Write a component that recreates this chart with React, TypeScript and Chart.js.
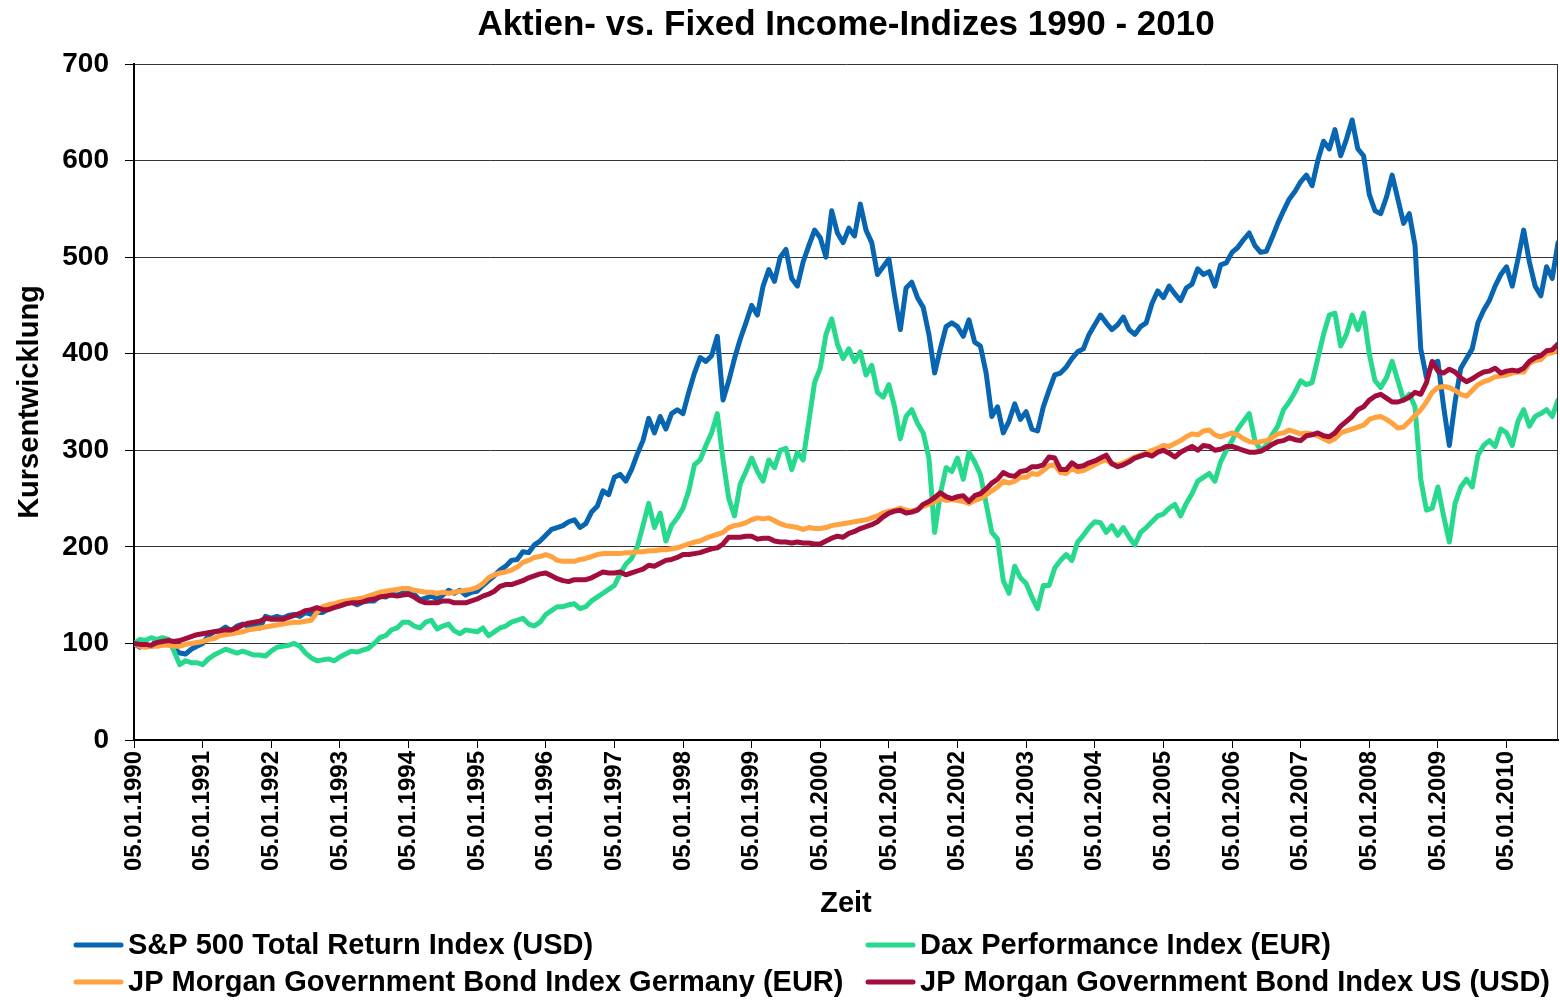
import React, { useEffect, useRef } from 'react';
import { Chart, registerables } from 'chart.js';

Chart.register(...registerables);

const chartTitle = 'Aktien- vs. Fixed Income-Indizes 1990 - 2010';
const yAxisTitle = 'Kursentwicklung';
const xAxisTitle = 'Zeit';

const yearTickLabels = [
  '05.01.1990', '05.01.1991', '05.01.1992', '05.01.1993', '05.01.1994', '05.01.1995', '05.01.1996',
  '05.01.1997', '05.01.1998', '05.01.1999', '05.01.2000', '05.01.2001', '05.01.2002', '05.01.2003',
  '05.01.2004', '05.01.2005', '05.01.2006', '05.01.2007', '05.01.2008', '05.01.2009', '05.01.2010',
];

const seriesNames = [
  'S&P 500 Total Return Index (USD)',
  'Dax Performance Index (EUR)',
  'JP Morgan Government Bond Index Germany (EUR)',
  'JP Morgan Government Bond Index US (USD)',
];
const seriesColors = ['#0865B1', '#27D98C', '#FFA23F', '#A20D3C'];

// monthly observations, January 1990 .. October 2010
const spx = [
  100, 96, 99, 97, 104, 105, 104, 95, 90, 89, 94, 97,
  100, 108, 112, 113, 117, 113, 118, 120, 118, 120, 116, 128,
  126, 128, 126, 129, 130, 128, 132, 130, 132, 132, 136, 138,
  139, 141, 143, 140, 143, 144, 144, 149, 148, 151, 150, 152,
  155, 151, 145, 147, 149, 146, 150, 155, 152, 155, 150, 153,
  154, 160, 165, 170, 176, 180, 186, 187, 195, 194, 202, 206,
  212, 218, 220, 222, 226, 228, 220, 224, 236, 242, 258, 254,
  272, 275, 268, 280, 296, 310, 333, 318, 335, 322, 338, 342,
  338, 360, 380, 396, 392, 398, 418, 352, 372, 395, 415, 432,
  450, 440, 470, 487, 475, 500, 508, 478, 470, 495, 512, 528,
  520, 500, 548, 525, 515, 530, 522, 555, 528, 515, 482, 490,
  498, 460, 425, 468, 474, 458, 448, 420, 380, 405, 428, 432,
  428, 418, 435, 412, 408, 380, 335, 345, 318, 330, 348, 332,
  340, 322, 320, 345, 362, 378, 380, 386, 395, 402, 405, 420,
  430, 440, 432, 425, 430, 438, 425, 420, 428, 432, 452, 465,
  458, 470, 462, 455, 468, 472, 488, 482, 485, 470, 492, 494,
  505, 510, 518, 525, 512, 505, 506, 520, 535, 548, 560, 568,
  578, 585, 574, 600, 620, 612, 632, 605, 622, 642, 612, 605,
  565, 548, 545, 562, 585, 560, 535, 545, 512, 405, 375, 390,
  392, 345, 305, 350, 385, 395, 405, 432, 445, 455, 470, 482,
  490, 470, 498, 528, 495, 470, 460, 490, 478, 515,
];

const dax = [
  100, 104, 103, 106, 104, 106, 104, 92, 78, 82, 80, 80,
  78, 84, 88, 91, 94, 92, 90, 92, 90, 88, 88, 87,
  92, 96, 97, 98, 100, 97, 90, 85, 82, 83, 84, 82,
  86, 89, 92, 91, 93, 95, 100, 106, 108, 114, 116, 122,
  122, 118, 116, 122, 124, 115, 118, 120, 113, 110, 114, 113,
  112, 116, 108, 112, 116, 118, 122, 124, 126, 120, 118, 122,
  130, 134, 138, 138, 140, 141, 136, 138, 144, 148, 152, 156,
  160, 172, 182, 188, 200, 222, 245, 220, 235, 206, 222, 230,
  240, 258, 285, 290, 305, 318, 338, 290, 250, 232, 265, 278,
  292, 278, 268, 290, 282, 300, 302, 280, 298, 290, 330, 370,
  385, 420, 436, 410, 395, 405, 392, 402, 378, 388, 360, 355,
  368, 345, 312, 335, 342, 328, 318, 292, 215, 255, 282, 278,
  292, 270, 298, 288, 275, 245, 215, 208, 165, 152, 180, 168,
  162, 148, 136, 160, 160, 178, 186, 192, 186, 205, 212, 220,
  226, 225, 215, 222, 212, 220, 210, 202, 215, 220, 226, 232,
  234, 240, 244, 232, 245, 255, 268, 272, 276, 268, 288, 300,
  310, 322, 330, 338, 310, 300, 305, 316, 325, 342, 350, 360,
  372, 368, 370, 395, 420, 440, 442, 408, 420, 440, 425, 442,
  400, 372, 365, 375, 392, 372, 352, 358, 345, 270, 238, 240,
  262, 232, 205, 245, 262, 270, 262, 295, 305, 310, 304, 322,
  318, 305, 330, 342, 325, 335, 338, 342, 335, 352,
];

const jpmGermany = [
  100, 97, 96, 97, 97, 98, 98, 97, 97, 99, 100, 101,
  102, 104, 105, 108, 109, 110, 111, 112, 114, 115, 116, 117,
  118, 119, 120, 121, 122, 122, 123, 124, 132, 138, 140, 141,
  143, 144, 145, 146, 147, 149, 151, 153, 154, 155, 156, 157,
  157, 155, 154, 153, 153, 152, 153, 152, 153, 154, 155, 156,
  158, 162, 168, 171, 173, 174, 176, 179, 184, 186, 189, 190,
  192, 190, 186, 185, 185, 185, 187, 188, 190, 192, 193, 193,
  193, 193, 194, 194, 195, 195, 196, 196, 197, 197, 198, 199,
  201, 203, 205, 206, 209, 211, 213, 215, 220, 222, 223, 225,
  228, 230, 229, 230, 227, 224, 222, 221, 220, 218, 220, 219,
  219, 220, 222, 223, 224, 225, 226, 227, 228, 230, 232, 235,
  237, 238, 240, 238, 237, 239, 242, 244, 247, 250, 248, 249,
  248, 247, 245, 248, 250, 254, 258, 262, 268, 266, 268, 272,
  272, 276, 275, 279, 284, 285, 277, 276, 281, 278, 279, 282,
  285, 288, 290, 286, 285, 287, 290, 293, 295, 297, 300, 302,
  305, 304, 307, 310, 314, 317, 316, 320, 321, 316, 314, 316,
  318, 316, 312, 309, 308, 309, 310, 313, 317, 318, 321, 319,
  317, 318, 317, 315, 312, 309, 312, 318, 320, 322, 324, 326,
  332, 334, 335, 332, 328, 323, 324, 330, 336, 342, 350, 360,
  365, 366, 365, 362, 358, 356, 362, 368, 371, 373, 376, 377,
  378, 380, 381, 381, 390, 393, 394, 400, 401, 404,
];

const jpmUS = [
  100, 99, 99, 98, 101, 102, 103, 102, 103, 105, 107, 109,
  110, 111, 112, 113, 114, 114, 116, 119, 121, 122, 123, 126,
  125, 125, 125, 127, 129, 131, 134, 135, 137, 135, 135, 137,
  139, 141, 142, 142, 143, 145, 146, 148, 149, 150, 149, 150,
  151, 148, 144, 142, 142, 142, 144, 144, 142, 142, 142, 144,
  146, 149, 151, 154, 159, 161, 161, 163, 165, 168, 170, 172,
  173, 170, 167, 165, 164, 166, 166, 166, 168, 171, 174, 173,
  173, 174, 171, 173, 175, 177, 181, 180, 183, 186, 187, 189,
  192, 192, 193, 194, 196, 198, 199, 203, 210, 210, 210, 211,
  211, 208, 209, 209, 206, 205, 205, 204, 205, 204, 204, 203,
  203, 206, 209, 211, 210, 214, 216, 219, 221, 223, 226, 231,
  235, 237, 238, 235, 236, 238, 244, 247, 251, 256, 252, 250,
  252, 253, 247, 253, 255, 260, 266, 270, 277, 274, 273, 278,
  279, 283, 283, 285, 293, 292, 280, 280, 287, 283, 284, 287,
  289, 292, 295, 286, 283, 285, 288, 292, 294, 296, 294, 298,
  300, 297, 293, 298, 301, 304, 300, 305, 304, 300, 301, 304,
  304, 302, 300, 298, 298, 299, 302, 306, 309, 310, 313, 311,
  310, 315, 316, 318, 315, 314, 318, 325, 330, 335, 342, 345,
  352, 356, 358, 354, 350, 350, 352, 355, 360, 358, 370, 392,
  382, 380, 384, 381, 375, 371, 374, 378, 381, 382, 385, 380,
  382, 383, 382, 385, 392, 396, 398, 403, 404, 410,
];

const seriesValues = [spx, dax, jpmGermany, jpmUS];
const drawOrder = [4, 3, 2, 1];

const FONT = '"Liberation Sans", Arial, sans-serif';

const decorPlugin = {
  id: 'decor',
  afterDraw(chart: any) {
    const { ctx, chartArea: a } = chart;
    ctx.save();
    // right frame line
    ctx.strokeStyle = '#333';
    ctx.lineWidth = 1;
    ctx.beginPath();
    ctx.moveTo(a.right - 0.5, a.top);
    ctx.lineTo(a.right - 0.5, a.bottom);
    ctx.stroke();

    ctx.fillStyle = '#000';
    ctx.textBaseline = 'middle';
    ctx.textAlign = 'center';
    ctx.font = `bold 35px ${FONT}`;
    ctx.fillText(chartTitle, (a.left + a.right) / 2, 25);

    ctx.font = `bold 29px ${FONT}`;
    ctx.fillText(xAxisTitle, (a.left + a.right) / 2, 904);

    ctx.save();
    ctx.translate(30, (a.top + a.bottom) / 2);
    ctx.rotate(-Math.PI / 2);
    ctx.fillText(yAxisTitle, 0, 0);
    ctx.restore();

    // legend, two columns
    const cols = [76, 868];
    const rows = [945, 982];
    const layout = [
      [0, 0, 0],
      [1, 1, 0],
      [2, 0, 1],
      [3, 1, 1],
    ];
    ctx.font = `bold 29px ${FONT}`;
    ctx.textAlign = 'left';
    layout.forEach(([s, c, r]) => {
      const x = cols[c];
      const y = rows[r];
      ctx.strokeStyle = seriesColors[s];
      ctx.lineWidth = 5;
      ctx.lineCap = 'round';
      ctx.beginPath();
      ctx.moveTo(x, y);
      ctx.lineTo(x + 45, y);
      ctx.stroke();
      ctx.fillText(seriesNames[s], x + 52, y + 1);
    });
    ctx.restore();
  },
};

export default function App() {
  const canvasRef = useRef<HTMLCanvasElement | null>(null);

  useEffect(() => {
    if (!canvasRef.current) return;
    const chart = new Chart(canvasRef.current, {
      type: 'line',
      data: {
        datasets: seriesValues.map((vals, s) => ({
          label: seriesNames[s],
          data: vals.map((v, i) => ({ x: i / 12, y: v })),
          borderColor: seriesColors[s],
          backgroundColor: seriesColors[s],
          borderWidth: 5,
          pointRadius: 0,
          tension: 0,
          borderJoinStyle: 'round' as const,
          borderCapStyle: 'round' as const,
          order: drawOrder[s],
        })),
      },
      options: {
        responsive: false,
        animation: false,
        devicePixelRatio: 1,
        layout: { padding: { top: 64, right: 2, left: 0, bottom: 0 } },
        plugins: {
          legend: { display: false },
          title: { display: false },
          tooltip: { enabled: false },
        },
        scales: {
          x: {
            type: 'linear',
            min: 0,
            max: 20.75,
            afterBuildTicks: (s: any) => {
              s.ticks = yearTickLabels.map((_, i) => ({ value: i }));
            },
            afterFit: (s: any) => {
              s.height = 260;
            },
            ticks: {
              autoSkip: false,
              minRotation: 90,
              maxRotation: 90,
              padding: 3,
              color: '#000',
              font: { family: FONT, size: 24, weight: 'bold' },
              callback: (_v: any, i: number) => yearTickLabels[i],
            },
            grid: { drawOnChartArea: false, drawTicks: true, tickLength: 8, tickColor: '#000', tickWidth: 1 },
            border: { color: '#000', width: 2 },
          },
          y: {
            min: 0,
            max: 700,
            afterFit: (s: any) => {
              s.width = 134;
            },
            ticks: {
              stepSize: 100,
              padding: 16,
              color: '#000',
              font: { family: FONT, size: 28, weight: 'bold' },
            },
            grid: { color: '#333', lineWidth: 1, drawTicks: true, tickLength: 9, tickColor: '#000' },
            border: { color: '#000', width: 2 },
          },
        },
      },
      plugins: [decorPlugin],
    } as any);
    return () => chart.destroy();
  }, []);

  return (
    <div style={{ position: 'absolute', left: 0, top: 0, width: 1560, height: 1000, background: '#fff' }}>
      <canvas ref={canvasRef} width={1560} height={1000} />
    </div>
  );
}
